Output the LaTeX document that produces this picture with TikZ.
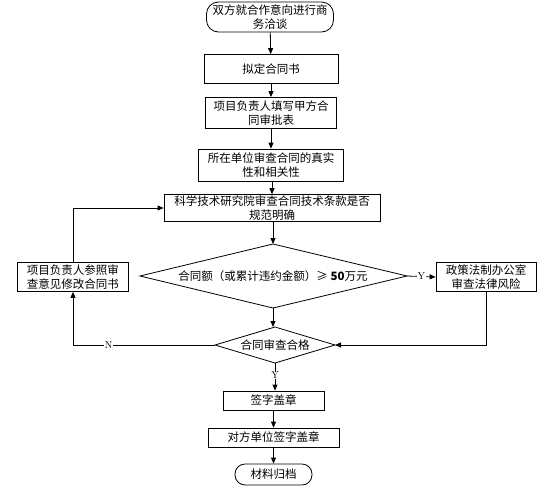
\documentclass[tikz,border=0pt]{standalone}
\usepackage{fontspec}
\newfontfamily\cjk{Noto Sans CJK SC}
\usetikzlibrary{arrows.meta}
\tikzset{
  every node/.style={font=\cjk\fontsize{11.5}{14}\selectfont},
  box/.style={draw, line width=0.8pt, inner sep=1pt, align=center},
  term/.style={draw, line width=0.8pt, rounded corners=12pt, inner sep=1pt, align=center},
  dia/.style={line width=0.8pt},
  dtext/.style={inner sep=0pt, align=center},
  conn/.style={line width=0.8pt, -{Triangle[length=6pt,width=5pt]}},
  lbl/.style={fill=white, inner sep=0.5pt, font=\fontsize{10}{11}\selectfont}
}
\begin{document}
\begin{tikzpicture}[x=1pt,y=-1pt]
\useasboundingbox (0,0) rectangle (554,496);
\node[term, minimum width=127, minimum height=30] (start) at (270,17) {双方就合作意向进行商\\务洽谈};
\node[box, minimum width=134, minimum height=29] (draft) at (271,69) {拟定合同书};
\node[box, minimum width=131, minimum height=31] (fill) at (271,113) {项目负责人填写甲方合\\同审批表};
\node[box, minimum width=145, minimum height=32] (unit) at (271,165) {所在单位审查合同的真实\\性和相关性};
\node[box, minimum width=216, minimum height=25] (sci) at (272,208) {科学技术研究院审查合同技术条款是否\\规范明确};
% decision 1
\coordinate (d1n) at (273,244);
\coordinate (d1e) at (407,276);
\coordinate (d1s) at (273,308);
\coordinate (d1w) at (140,276);
\draw[dia] (d1n) -- (d1e) -- (d1s) -- (d1w) -- cycle;
\node[dtext] (d1) at (273,276) {合同额（或累计违约金额）≥ \textbf{50}万元};
\node[box, minimum width=100, minimum height=29] (law) at (486,277) {政策法制办公室\\审查法律风险};
% decision 2
\coordinate (d2n) at (275,327);
\coordinate (d2e) at (335,345);
\coordinate (d2s) at (275,363);
\coordinate (d2w) at (215,345);
\draw[dia] (d2n) -- (d2e) -- (d2s) -- (d2w) -- cycle;
\node[dtext] (d2) at (275,345) {合同审查合格};
\node[box, minimum width=111, minimum height=29] (mod) at (73,277) {项目负责人参照审\\查意见修改合同书};
\node[box, minimum width=101, minimum height=19] (sign) at (273.5,400.5) {签字盖章};
\node[box, minimum width=131, minimum height=19] (other) at (273.5,437.5) {对方单位签字盖章};
\node[term, minimum width=77, minimum height=21, rounded corners=10pt] (archive) at (273.5,474.5) {材料归档};
\coordinate (c1) at (73,208);
\coordinate (c2) at (73,345);
\coordinate (c3) at (486,345);
\draw[conn] (start) -- (draft);
\draw[conn] (draft) -- (fill);
\draw[conn] (fill) -- (unit);
\draw[conn] (unit.south -| sci.north) -- (sci.north);
\draw[conn] (sci.south -| d1n) -- (d1n);
\draw[conn] (d1e) -- node[lbl, pos=0.5] {Y} (law.west);
\draw[conn] (d1s) -- (d1s |- d2n);
\draw[conn] (law.south) -- (c3) -- (d2e);
\draw[conn] (d2w) -- node[lbl, pos=0.75] {N} (c2) -- (mod.south);
\draw[conn] (mod.north) -- (c1) -- (sci.west);
\draw[conn] (d2s) -- node[lbl, pos=0.45] {Y} (d2s |- sign.north);
\draw[conn] (sign) -- (other);
\draw[conn] (other) -- (archive);
\end{tikzpicture}
\end{document}
